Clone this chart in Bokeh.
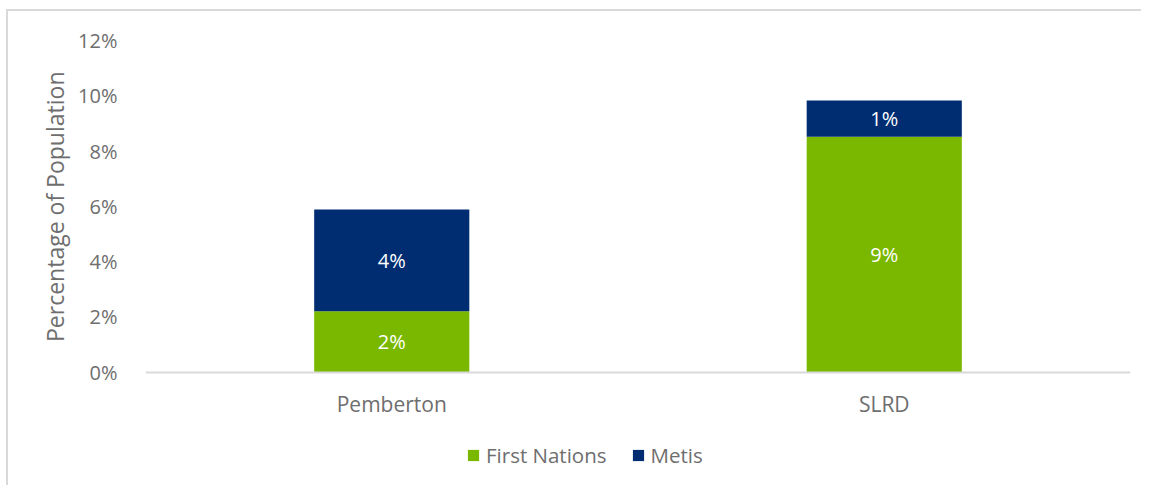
from bokeh.plotting import figure
from bokeh.models import ColumnDataSource, FactorRange, Range1d, FixedTicker, PrintfTickFormatter, Legend, LegendItem, LabelSet, Title
from bokeh.core.properties import value
from bokeh.embed import file_html
from bokeh.resources import INLINE

regions = ["Pemberton", "SLRD"]
series = ["First Nations", "Metis"]
first_nations = [2.2, 8.52]
metis = [3.68, 1.31]
fn_labels = ["2%", "9%"]
metis_labels = ["4%", "1%"]
y_ticks = [0, 2, 4, 6, 8, 10, 12]
y_title = "Percentage of Population"
colors = ["#7AB800", "#002D72"]

FONT = "Open Sans"
GRAY = "#6e6e6e"

src = ColumnDataSource(dict(
    region=regions,
    fn=first_nations,
    metis=metis,
    fn_mid=[v / 2 for v in first_nations],
    metis_mid=[f + m / 2 for f, m in zip(first_nations, metis)],
    fn_lab=fn_labels,
    metis_lab=metis_labels,
))

p = figure(x_range=FactorRange(*regions, range_padding=0), y_range=Range1d(-4, 12),
           width=1135, height=476, output_backend="svg", toolbar_location=None,
           min_border_left=137, min_border_right=13, min_border_top=29, min_border_bottom=5)
p.styles = {"margin-left": "6px", "margin-top": "9px",
            "border-left": "2px solid #d9d9d9", "border-top": "2px solid #d9d9d9"}

rs = p.vbar_stack(["fn", "metis"], x="region", width=0.315, source=src, color=colors, line_width=0)

for ycol, tcol in (("fn_mid", "fn_lab"), ("metis_mid", "metis_lab")):
    p.add_layout(LabelSet(x="region", y=ycol, text=tcol, source=src, text_color="white",
                          text_font=value(FONT), text_font_size="20px",
                          text_align="center", text_baseline="middle"))

p.xgrid.grid_line_color = None
p.ygrid.grid_line_color = None
p.outline_line_color = None

p.yaxis.ticker = FixedTicker(ticks=y_ticks)
p.yaxis.formatter = PrintfTickFormatter(format="%d%%")
p.yaxis.axis_line_color = None
p.yaxis.major_tick_line_color = None
p.yaxis.minor_tick_line_color = None
p.yaxis.major_label_standoff = 22
p.yaxis.major_label_text_font = FONT
p.yaxis.major_label_text_font_size = "20px"
p.yaxis.major_label_text_color = GRAY

ytitle = Title(text=y_title, align="right", offset=31, standoff=10,
               text_font=FONT, text_font_size="23px", text_font_style="normal",
               text_color=GRAY)
p.add_layout(ytitle, "left")

p.xaxis.fixed_location = 0
p.xaxis.axis_line_color = "#d9d9d9"
p.xaxis.axis_line_width = 2
p.xaxis.major_tick_line_color = None
p.xaxis.minor_tick_line_color = None
p.xaxis.major_label_standoff = 12
p.xaxis.major_label_text_font = FONT
p.xaxis.major_label_text_font_size = "21px"
p.xaxis.major_label_text_color = GRAY

legend = Legend(items=[LegendItem(label=series[0], renderers=[rs[0]]),
                       LegendItem(label=series[1], renderers=[rs[1]])],
                orientation="horizontal", location=(321, 13),
                padding=0, margin=0, spacing=24, glyph_width=14, glyph_height=14,
                label_standoff=6, label_height=20,
                label_text_font=FONT, label_text_font_size="20.5px", label_text_color=GRAY,
                border_line_color=None, background_fill_alpha=0)
p.add_layout(legend, "center")

open("out.html", "w").write(file_html(p, INLINE))
